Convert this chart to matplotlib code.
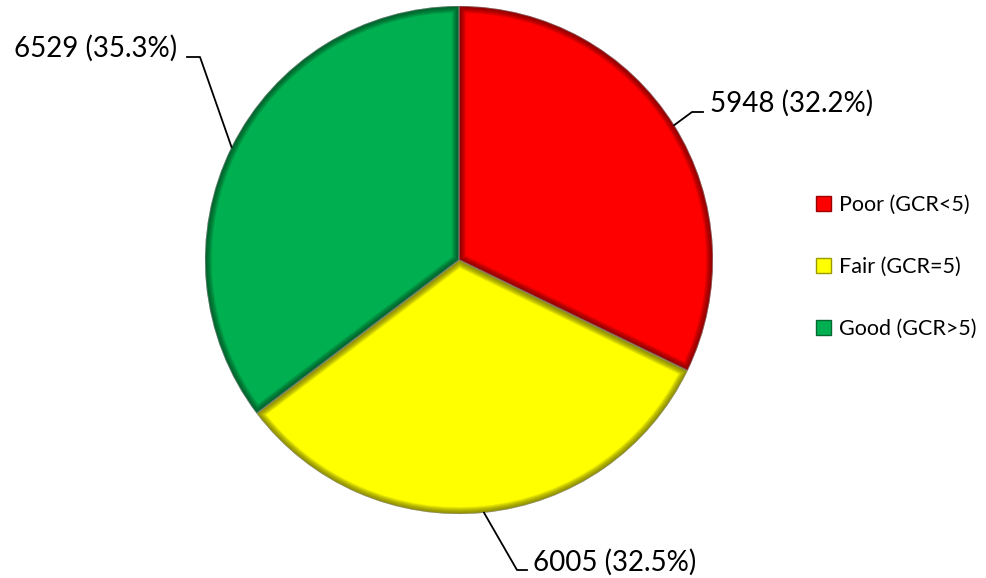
import numpy as np
import matplotlib.pyplot as plt
from matplotlib.patches import Wedge, Patch
from matplotlib.colors import to_rgb

plt.rcParams['font.family'] = ['Lato', 'DejaVu Sans']

# GCR categories and counts
categories = ['Poor (GCR<5)', 'Fair (GCR=5)', 'Good (GCR>5)']
counts = [5948, 6005, 6529]
colors = ['#FF0000', '#FFFF00', '#00B050']

W, H = 987, 578
fig = plt.figure(figsize=(W / 100, H / 100), dpi=100)
ax = fig.add_axes([0, 0, 1, 1])
ax.set_xlim(0, W)
ax.set_ylim(0, H)
ax.set_aspect('equal')
ax.axis('off')

cx, cy, r = 459, H - 260, 254

wedges, _ = ax.pie(counts, colors=colors, startangle=90, counterclock=False,
                   center=(cx, cy), radius=r, explode=[0.008] * 3,
                   wedgeprops=dict(edgecolor='white', linewidth=1.2))
ax.set_xlim(0, W)
ax.set_ylim(0, H)

def shade(c, f):
    c = np.array(to_rgb(c))
    return tuple(c * f)

# soft bevel along each slice edge: stacked translucent strokes clipped to the slice
for w, col in zip(wedges, colors):
    steps = 10
    for k in range(steps):
        px = 7 - 6 * k / (steps - 1)
        rim = Wedge(w.center, w.r, w.theta1, w.theta2, fill=False,
                    edgecolor=shade(col, 0.35), linewidth=px * 2 * 0.72, alpha=0.1)
        ax.add_patch(rim)
        rim.set_clip_path(w)

# value labels with leader lines
total = sum(counts)
label_pos = [(710, 103, 'left'), (533, 562, 'left'), (177, 48, 'right')]
elbows = [[(692, 112), (703, 112)], [(517, 570), (527, 570)], [(200, 57), (187, 57)]]
for w, n, (tx, ty, ha), elb in zip(wedges, counts, label_pos, elbows):
    mid = np.deg2rad((w.theta1 + w.theta2) / 2)
    ax_pt = (cx + r * np.cos(mid), cy + r * np.sin(mid))
    xs = [ax_pt[0]] + [p[0] for p in elb]
    ys = [ax_pt[1]] + [H - p[1] for p in elb]
    ax.plot(xs, ys, color='black', lw=1.3)
    ax.text(tx, H - ty, f'{n} ({n / total * 100:.1f}%)', ha=ha, va='center',
            fontsize=20)

handles = [Patch(facecolor=c, edgecolor=shade(c, 0.6), linewidth=1) for c in colors]
ax.legend(handles, categories, loc='center left', bbox_to_anchor=(805 / W, 1 - 267 / H),
          frameon=False, fontsize=15.5, handlelength=0.7, handleheight=0.7,
          handletextpad=0.4, labelspacing=1.95, borderpad=0)

fig.savefig('out.png', dpi=100)
